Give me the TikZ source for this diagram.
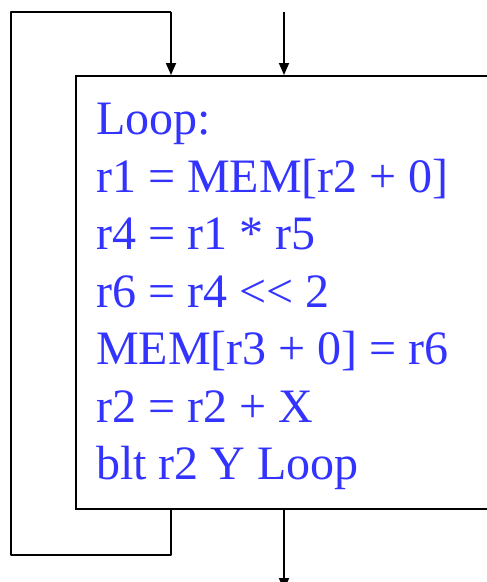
\documentclass[tikz,border=0pt]{standalone}
\usepackage{fontspec}
\setmainfont{Liberation Serif}
\usetikzlibrary{arrows.meta, positioning, calc}
\definecolor{codeblue}{RGB}{51,51,255}

\begin{document}
\begin{tikzpicture}[x=1pt, y=-1pt,
    flow/.style={line width=1.8pt, -{Triangle[length=12pt, width=10pt]}},
    wire/.style={line width=1.8pt, line join=round},
    blockbox/.style={draw, line width=2pt, minimum width=416pt, minimum height=433pt, inner sep=0pt},
    codetext/.style={codeblue, align=left, inner sep=0pt, font=\fontsize{48}{57.5}\selectfont}]
  \useasboundingbox (0,0) rectangle (487,582);
  \clip (0,0) rectangle (487,582);
  % basic block
  \node[blockbox, anchor=north west] (loopbox) at (75,75) {};
  \node[codetext, anchor=north west] (code) at (96,103)
    {Loop:\\ r1 = MEM[r2 + 0]\\ r4 = r1 * r5\\ r6 = r4 {<}{<} 2\\ MEM[r3 + 0] = r6\\ r2 = r2 + X\\ blt r2 Y Loop};
  % entry, back edge and exit
  \coordinate (entry) at (loopbox.north |- 0,12);
  \coordinate (backin) at ($(loopbox.north west)+(96,0)$);
  \coordinate (backout) at ($(loopbox.south west)+(96,0)$);
  \coordinate (exit) at (loopbox.south |- 0,590);
  \draw[flow] (entry) -- (loopbox.north);
  \draw[flow] (loopbox.south) -- (exit);
  \draw[wire] (backout) -- (backout |- 0,555) -- (11,555) -- (11,12) -- (backin |- 0,12);
  \draw[flow] (backin |- 0,12) -- (backin);
\end{tikzpicture}
\end{document}
